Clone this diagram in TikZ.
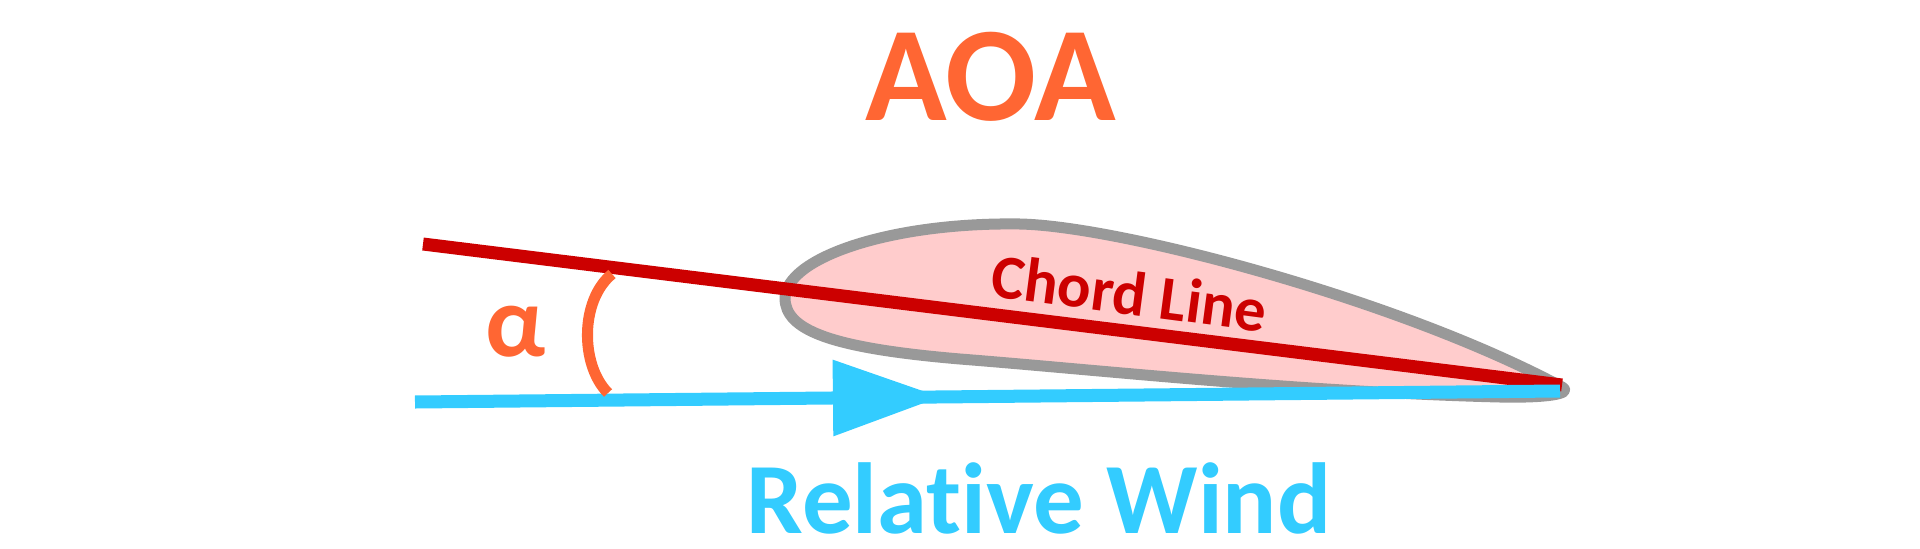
\documentclass[tikz,border=0pt]{standalone}
\usepackage{fontspec}
\setmainfont{Carlito}[Ligatures=CommonOff]
\usetikzlibrary{arrows.meta, decorations.markings}
\definecolor{aoaorange}{HTML}{FF6633}
\definecolor{chordred}{HTML}{CC0000}
\definecolor{windblue}{HTML}{33CCFF}
\definecolor{foilgray}{HTML}{999999}
\definecolor{foilpink}{HTML}{FFCCCC}
\begin{document}
\begin{tikzpicture}[x=0.01cm, y=-0.01cm,
  chord/.style={chordred, line width=0.13cm},
  wind/.style={windblue, line width=0.13cm},
  foil/.style={draw=foilgray, fill=foilpink, line width=0.11cm, line join=round},
  anglearc/.style={aoaorange, line width=0.11cm},
  lbl/.style={inner sep=0pt}]
\useasboundingbox (0,0) rectangle (1920,548);
% airfoil
\draw[foil] (785,298) .. controls (786,258) and (890,222) .. (1020,224)
  .. controls (1120,226) and (1400,300) .. (1562,387)
  .. controls (1574,394) and (1545,398) .. (1500,397)
  .. controls (1300,392) and (1100,370) .. (960,359)
  .. controls (830,348) and (785,330) .. cycle;
% chord line
\coordinate (chordL) at (423,244);
\coordinate (chordR) at (1562,385);
\draw[chord] (chordL) -- (chordR);
% relative wind
\coordinate (windL) at (415,402);
\coordinate (windR) at (1560,391);
\draw[wind, postaction={decorate}, decoration={markings,
  mark=at position 0.4594 with {\arrow{Triangle[length=1.08cm, width=0.73cm]}}}]
  (windL) -- (windR);
% angle
\coordinate (arcTop) at (612,274);
\coordinate (arcBot) at (608,393);
\draw[anglearc] (arcTop) .. controls (580,300) and (580,365) .. (arcBot);
% labels
\node[lbl, aoaorange, font=\fontsize{38.3}{46}\selectfont\bfseries, anchor=base] (title) at (991,120) {AOA};
\node[lbl, aoaorange, font=\fontsize{29}{35}\selectfont\bfseries] (alpha) at (516,332) {α};
\node[lbl, chordred, font=\fontsize{17.8}{21}\selectfont\bfseries, anchor=base west, rotate=-7.5] (chordlbl) at (989,296) {Chord Line};
\node[lbl, windblue, font=\fontsize{28.7}{34}\selectfont\bfseries, anchor=base west] (windlbl) at (746,533) {Relative Wind};
\end{tikzpicture}
\end{document}
